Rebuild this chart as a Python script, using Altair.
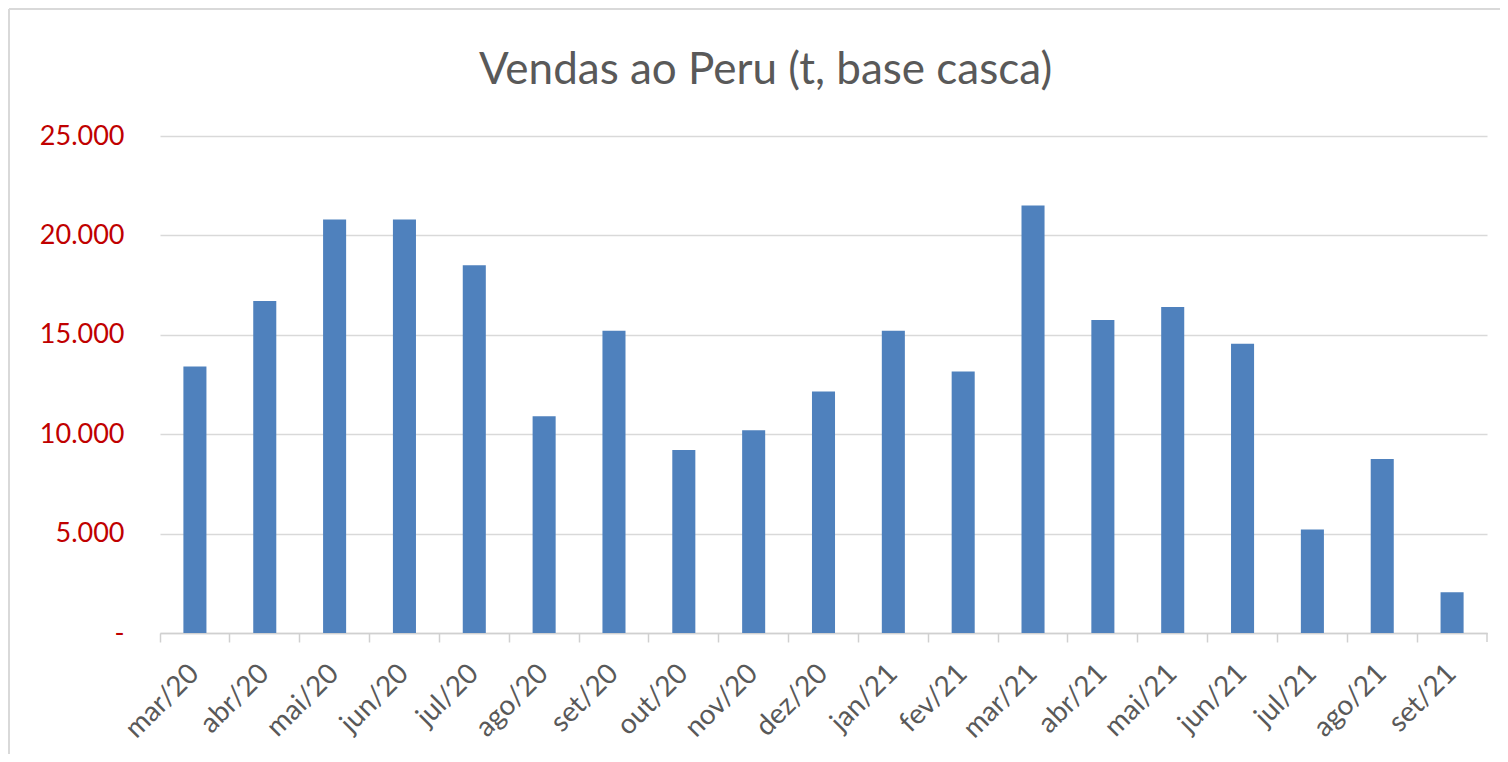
import altair as alt
import pandas as pd

months = ["mar/20", "abr/20", "mai/20", "jun/20", "jul/20", "ago/20", "set/20",
          "out/20", "nov/20", "dez/20", "jan/21", "fev/21", "mar/21", "abr/21",
          "mai/21", "jun/21", "jul/21", "ago/21", "set/21"]
vendas = [13400, 16700, 20800, 20800, 18500, 10900, 15200,
          9200, 10200, 12150, 15200, 13150, 21500, 15750,
          16400, 14550, 5200, 8750, 2050]
y_ticks = [0, 5000, 10000, 15000, 20000, 25000]

df = pd.DataFrame({"mes": months, "vendas": vendas})
one = pd.DataFrame({"k": [0]})

FONT = "Lato"
GRAY = "#595959"
W, H = 1327, 497

bars = alt.Chart(df).mark_bar(
    color="#4F81BD", width=alt.RelativeBandSize(0.33)
).encode(
    x=alt.X("mes:N", sort=months, title=None,
            scale=alt.Scale(paddingInner=0, paddingOuter=0),
            axis=alt.Axis(bandPosition=0, labelAngle=-45,
                          labelAlign="right", labelBaseline="middle",
                          labelPadding=27, labelFontSize=28, labelFont=FONT,
                          labelColor=GRAY, tickSize=9, tickColor="#D0D0D0",
                          tickWidth=1.5, domainColor="#D0D0D0", domainWidth=1.5,
                          grid=False)),
    y=alt.Y("vendas:Q", title=None,
            scale=alt.Scale(domain=[0, 25000], nice=False),
            axis=alt.Axis(values=y_ticks, domain=False, ticks=False,
                          labelFontSize=27, labelFont=FONT, labelColor="#C00000",
                          labelPadding=36, gridColor="#D9D9D9", gridWidth=1.5,
                          labelExpr="datum.value == 0 ? '-\u00a0\u00a0\u00a0' : replace(format(datum.value, ','), ',', '.')")),
)

# closing tick at the right end of the category axis
end_tick = alt.Chart(one).mark_rule(color="#D0D0D0", strokeWidth=1.5).encode(
    x=alt.value(W), y=alt.value(H), y2=alt.value(H + 9))

# chart-area frame (left and top edges visible in the reference)
frame_left = alt.Chart(one).mark_rule(color="#D9D9D9", strokeWidth=2).encode(
    x=alt.value(-151), y=alt.value(-127), y2=alt.value(640))
frame_top = alt.Chart(one).mark_rule(color="#D9D9D9", strokeWidth=2).encode(
    x=alt.value(-151), x2=alt.value(W + 40), y=alt.value(-127))

chart = alt.layer(bars, end_tick, frame_left, frame_top).properties(
    width=W, height=H,
    title=alt.TitleParams("Vendas ao Peru (t, base casca)", fontSize=44, font=FONT,
                          fontWeight="normal", color=GRAY, anchor="middle",
                          dx=-58, dy=172, offset=52, baseline="alphabetic"),
    autosize=alt.AutoSizeParams(type="none"),
    padding={"left": 152, "top": 128, "right": 13, "bottom": 121},
).configure(background="white").configure_view(stroke=None)

chart.save("out.html", embed_options={"renderer": "svg", "actions": False})
